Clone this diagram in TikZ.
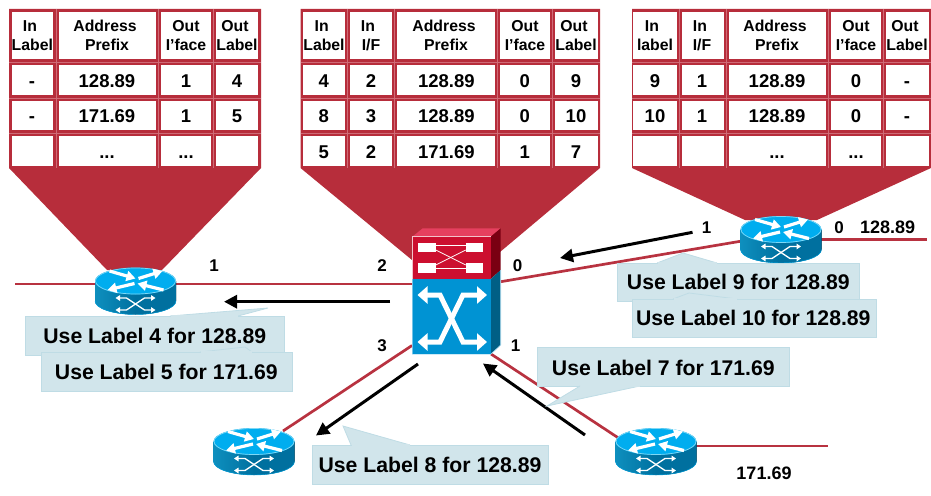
\documentclass[tikz,border=0pt]{standalone}
\usepackage{fontspec}
\setmainfont{Liberation Sans}
\usetikzlibrary{arrows.meta}
\definecolor{framered}{HTML}{B72D3B}
\definecolor{gridred}{HTML}{CF6A76}
\definecolor{linkred}{HTML}{B83240}
\definecolor{calloutfill}{HTML}{D1E5EB}
\definecolor{calloutedge}{HTML}{BFDCE5}
\definecolor{swredfront}{HTML}{CC0F2F}
\definecolor{swredtop}{HTML}{E6405F}
\definecolor{swredside}{HTML}{7A0012}
\definecolor{swbluefront}{HTML}{0093D3}
\definecolor{swblueside}{HTML}{005F85}
\definecolor{rtop}{HTML}{00ADEF}
\definecolor{rtopedge}{HTML}{7FD8F5}
\definecolor{rbody}{HTML}{00709F}
\definecolor{rbodyl}{HTML}{0E8FBE}
\newcount\txcount
\newcommand{\tx}[4]{\global\advance\txcount by 1
  \node[#1] (t\the\txcount) at (#2,#3) {#4};}
\newcommand{\hd}[4]{\tx{headtext}{#1}{32}{#3}\tx{headtext}{#2}{51}{#4}}
\newcommand{\vals}[4]{\tx{celltext}{#1}{87.5}{#2}\tx{celltext}{#1}{122}{#3}\tx{celltext}{#1}{158}{#4}}
\newcommand{\cells}[1]{\foreach \xa/\xb in {#1}{
    \foreach \ya/\yb in {12/59,65/95,101/130,136/166}{
      \fill[white] (\xa,\ya) rectangle (\xb,\yb);}}}
\newcommand{\gridlines}[3]{%
  \foreach \yy in {62,98,133}{\draw[gridline] (#1,\yy) -- (#2,\yy);}
  \foreach \xx in {#3}{\draw[gridline] (\xx,9) -- (\xx,168);}}
% x1,y1,x2,y2,baseA,apexX,apexY,baseB,baseY;
\newcommand{\callout}[1]{\calloutB#1}
\def\calloutB#1,#2,#3,#4,#5,#6,#7,#8,#9;{%
  \draw[calloutbox] (#1,#2) rectangle (#3,#4);
  \fill[calloutfill] (#5,#9) -- (#6,#7) -- (#8,#9) -- cycle;
  \draw[calloutedge,line width=0.8pt,line join=miter] (#5,#9) -- (#6,#7) -- (#8,#9);
  \fill[calloutfill] (#5+0.5,#9-0.6) rectangle (#8-0.5,#9+0.6);}
\tikzset{
  headtext/.style={anchor=base,inner sep=0pt,font=\fontsize{15.8}{18}\selectfont\bfseries},
  celltext/.style={anchor=base,inner sep=0pt,font=\fontsize{18.5}{20}\selectfont\bfseries},
  calltext/.style={anchor=base,inner sep=0pt,font=\fontsize{21.2}{24}\selectfont\bfseries},
  porttext/.style={anchor=base,inner sep=0pt,font=\fontsize{17}{20}\selectfont\bfseries},
  nettext/.style={anchor=base,inner sep=0pt,font=\fontsize{18}{20}\selectfont\bfseries},
  gridline/.style={draw=gridred,line width=0.5pt},
  calloutbox/.style={draw=calloutedge,fill=calloutfill,line width=0.8pt,line join=miter},
  linkline/.style={draw=linkred,line width=2.7pt},
  flowarrow/.style={draw=black,line width=3pt,-{Triangle[length=13pt,width=13pt]}},
  rarrow/.style={draw=white,line width=3.2pt,-{Triangle[length=9pt,width=10pt]}},
  sarrow/.style={draw=white,line width=1.3pt,{Triangle[length=4.5pt,width=5.5pt]}-{Triangle[length=4.5pt,width=5.5pt]}},
  routericon/.pic={
    \fill[left color=rbodyl,right color=rbody,middle color=rbody]
      (-40.5,0) -- (-40.5,20) arc[start angle=180,end angle=360,x radius=40.5pt,y radius=13.5pt] -- (40.5,0) -- cycle;
    \draw[rtop,line width=0.4pt] (-40.5,20) arc[start angle=180,end angle=360,x radius=40.5pt,y radius=13.5pt];
    \fill[rtop] (0,0) ellipse[x radius=40.5pt,y radius=13.5pt];
    \draw[rtopedge,line width=0.7pt] (0,0) ellipse[x radius=40pt,y radius=13pt];
    \draw[rarrow] (-26,-10) -- (0,-2.5);
    \draw[rarrow] (3,-2.5) -- (27,-10);
    \draw[rarrow] (-1,2.5) -- (-28,9);
    \draw[rarrow] (28,9) -- (2,2.5);
    \draw[sarrow] (-20,17) -- (-9,17) -- (9,29) -- (20,29);
    \draw[sarrow] (-20,29) -- (-9,29) -- (9,17) -- (20,17);
  }
}
\begin{document}
\begin{tikzpicture}[x=1pt,y=-1pt]
\useasboundingbox (0,0) rectangle (931,495);
% ---------- funnels and table frames
\fill[framered] (9,9) -- (261,9) -- (261,168) -- (162,270) -- (107,270) -- (9,168) -- cycle;
\fill[framered] (300.5,9) -- (600,9) -- (600,168) -- (500,252) -- (412,260) -- (300.5,168) -- cycle;
\fill[framered] (632,9) -- (931,9) -- (931,168) -- (817,220) -- (745,220) -- (632,168) -- cycle;
\gridlines{9}{261}{56,158.5,213.5}
\gridlines{300.5}{600}{347.5,394.5,497.5,552.5}
\gridlines{632}{931}{679.5,726.5,828.5,883.5}
\cells{12/53,59/156,161/211,216/258}
\cells{302.5/345,350/392,397/495,500/550,555/598}
\cells{633/677,682/724,729/826,831/881,886/929}
% ---------- table 1 text
\hd{30}{32.3}{In}{Label}
\hd{105}{107}{Address}{Prefix}
\hd{186}{186}{Out}{I’face}
\hd{235}{237}{Out}{Label}
\vals{32}{-}{-}{}
\vals{107}{128.89}{171.69}{...}
\vals{186}{1}{1}{...}
\vals{237}{4}{5}{}
% ---------- table 2 text
\hd{321.7}{324}{In}{Label}
\hd{368}{371}{In}{I/F}
\hd{444}{446}{Address}{Prefix}
\hd{525}{525}{Out}{I’face}
\hd{574}{576}{Out}{Label}
\vals{323.7}{4}{8}{5}
\vals{371}{2}{3}{2}
\vals{446.3}{128.89}{128.89}{171.69}
\vals{524.7}{0}{0}{1}
\vals{576}{9}{10}{7}
% ---------- table 3 text
\hd{652}{655}{In}{label}
\hd{700}{702}{In}{I/F}
\hd{775}{777}{Address}{Prefix}
\hd{856}{856}{Out}{I’face}
\hd{905}{907}{Out}{Label}
\vals{655}{9}{10}{}
\vals{702}{1}{1}{}
\vals{777}{128.89}{128.89}{...}
\vals{856}{0}{0}{...}
\vals{907}{-}{-}{}
% ---------- named attachment points
\coordinate (leftEnd) at (15,284);
\coordinate (rA) at (135.5,284);
\coordinate (swW) at (412,284);
\coordinate (swE) at (500.7,281.7);
\coordinate (rBw) at (745,240.5);
\coordinate (rBe) at (818,239.7);
\coordinate (rightEnd) at (927,239.7);
\coordinate (swSW) at (412,345.5);
\coordinate (rCne) at (283,431);
\coordinate (swSE) at (491,354);
\coordinate (rDnw) at (620,439);
\coordinate (rDe) at (690,446);
\coordinate (rDend) at (828,446);
% ---------- links
\draw[linkline] (leftEnd) -- (rA) -- (swW);
\draw[linkline] (swE) -- (rBw);
\draw[linkline] (rBe) -- (rightEnd);
\draw[linkline] (swSW) -- (rCne);
\draw[linkline] (swSE) -- (rDnw);
\draw[linkline] (rDe) -- (rDend);
% ---------- flow arrows
\coordinate (fa1s) at (390,301.7); \coordinate (fa1e) at (224,301.7);
\coordinate (fa2s) at (692.5,232.3); \coordinate (fa2e) at (560,258);
\coordinate (fa3s) at (418,364); \coordinate (fa3e) at (316,435.5);
\coordinate (fa4s) at (585,435); \coordinate (fa4e) at (483,363.5);
\draw[flowarrow] (fa1s) -- (fa1e);
\draw[flowarrow] (fa2s) -- (fa2e);
\draw[flowarrow] (fa3s) -- (fa3e);
\draw[flowarrow] (fa4s) -- (fa4e);
% ---------- core switch
\fill[swredtop] (412.3,236.7) -- (422.7,228.3) -- (500.7,228.3) -- (490.7,236.7) -- cycle;
\fill[swredside] (490.7,236.7) -- (500.7,228.3) -- (500.7,270) -- (490.7,279) -- cycle;
\fill[swredfront] (412.3,236.7) rectangle (490.7,279);
\draw[white!75!swredfront,line width=0.6pt] (412.3,279) -- (412.3,236.7) -- (490.7,236.7);
\fill[swblueside] (490.7,279) -- (500.7,270) -- (500.7,345) -- (490.7,354.3) -- cycle;
\fill[swbluefront] (412.3,279) rectangle (490.7,354.3);
\draw[white!70!swbluefront,line width=0.6pt] (412.3,279) -- (412.3,354.3) -- (490.7,354.3) -- (500.7,345) -- (500.7,270);
\fill[white] (417.7,242.7) rectangle (435.7,251.7);
\fill[white] (465.7,242.7) rectangle (483.3,251.7);
\fill[white] (417.7,263.3) rectangle (435.7,272.7);
\fill[white] (465.7,263.3) rectangle (483.3,272.7);
\draw[white,line width=0.8pt] (435.7,245.5) -- (465.7,245.5);
\draw[white,line width=0.8pt] (435.7,268) -- (465.7,268);
\draw[white,line width=0.8pt] (435.7,250) -- (465.7,265);
\draw[white,line width=0.8pt] (435.7,265) -- (465.7,250);
\draw[white,line width=5pt,line join=miter,{Triangle[length=10pt,width=17pt]}-{Triangle[length=10pt,width=17pt]}]
  (417.5,295) -- (440,295) -- (463,342) -- (487,342);
\draw[white,line width=5pt,line join=miter,{Triangle[length=10pt,width=17pt]}-{Triangle[length=10pt,width=17pt]}]
  (487,295) -- (463,295) -- (440,342) -- (417.5,342);
% ---------- routers
\pic (routerA) at (135.5,281) {routericon};
\pic (routerB) at (781,229.5) {routericon};
\pic (routerC) at (254,441.5) {routericon};
\pic (routerD) at (656,441.5) {routericon};
% ---------- callouts
\callout{25,316,284,355,170,268,308,238,316;}
\tx{calltext}{154.8}{343.3}{Use Label 4 for 128.89}
\callout{41,352,292,391,200,245,347,252,352;}
\tx{calltext}{166.3}{379}{Use Label 5 for 171.69}
\callout{617,263,859,301,657,683,253,717,263;}
\tx{calltext}{738.3}{289.3}{Use Label 9 for 128.89}
\callout{632,299,876,337,673,689,293,737,299;}
\tx{calltext}{753.3}{325.7}{Use Label 10 for 128.89}
\callout{537,347,789,386,580,547,406,640,386;}
\tx{calltext}{663.3}{375}{Use Label 7 for 171.69}
\callout{312,445,548,484,351,343,426,410,445;}
\tx{calltext}{430}{472.7}{Use Label 8 for 128.89}
% ---------- port and network labels
\tx{porttext}{214}{271}{1}
\tx{porttext}{382}{271}{2}
\tx{porttext}{517.7}{271}{0}
\tx{porttext}{382}{351}{3}
\tx{porttext}{515.7}{351.5}{1}
\tx{porttext}{706.7}{233.7}{1}
\tx{porttext}{839}{233.7}{0}
\tx{nettext}{887.7}{233}{128.89}
\tx{nettext}{764}{479}{171.69}
\end{tikzpicture}
\end{document}
